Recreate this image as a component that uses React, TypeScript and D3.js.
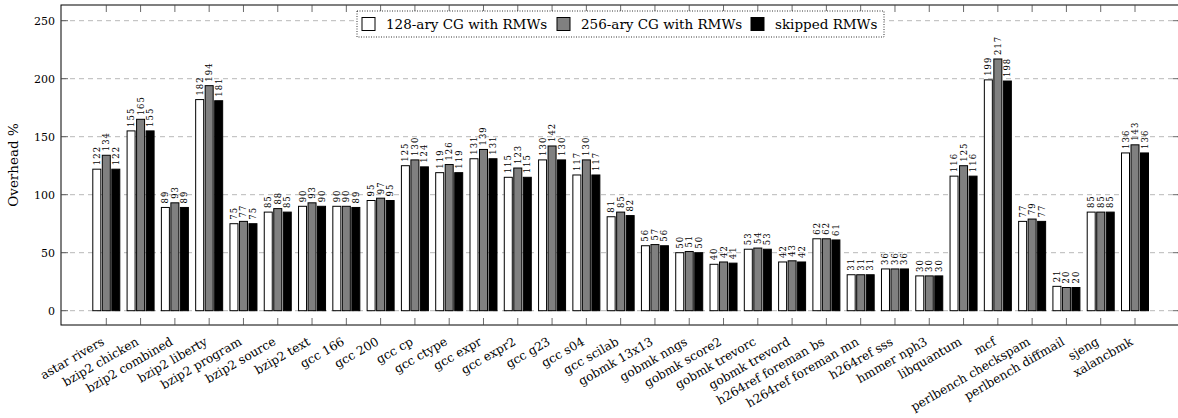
import React from "react";
import * as d3 from "d3";

const categories = [
  "astar rivers", "bzip2 chicken", "bzip2 combined", "bzip2 liberty", "bzip2 program",
  "bzip2 source", "bzip2 text", "gcc 166", "gcc 200", "gcc cp", "gcc ctype", "gcc expr",
  "gcc expr2", "gcc g23", "gcc s04", "gcc scilab", "gobmk 13x13", "gobmk nngs",
  "gobmk score2", "gobmk trevorc", "gobmk trevord", "h264ref foreman bs",
  "h264ref foreman mn", "h264ref sss", "hmmer nph3", "libquantum", "mcf",
  "perlbench checkspam", "perlbench diffmail", "sjeng", "xalancbmk",
];

const cg128 = [122, 155, 89, 182, 75, 85, 90, 90, 95, 125, 119, 131, 115, 130, 117, 81, 56, 50, 40, 53, 42, 62, 31, 36, 30, 116, 199, 77, 21, 85, 136];
const cg256 = [134, 165, 93, 194, 77, 88, 93, 90, 97, 130, 126, 139, 123, 142, 130, 85, 57, 51, 42, 54, 43, 62, 31, 36, 30, 125, 217, 79, 20, 85, 143];
const skipped = [122, 155, 89, 181, 75, 85, 90, 89, 95, 124, 119, 131, 115, 130, 117, 82, 56, 50, 41, 53, 42, 61, 31, 36, 30, 116, 198, 77, 20, 85, 136];

const seriesNames = ["128-ary CG with RMWs", "256-ary CG with RMWs", "skipped RMWs"];
const seriesFills = ["#ffffff", "#808080", "#000000"];
const yTicks = [0, 50, 100, 150, 200, 250];

const W = 1178;
const H = 418;
const frame = { left: 61, right: 1180, top: 5, bottom: 325 };
const FONT = "'DejaVu Serif', serif";

export default function App() {
  const series = [cg128, cg256, skipped];
  const y = d3.scaleLinear().domain([0, 250]).range([310.7, 20.7]);
  const x = d3.scaleLinear().domain([0, categories.length - 1]).range([106.3, 1135]);
  const offsets = d3.scaleLinear().domain([0, 2]).range([-9.5, 9.5]);
  const barW = 8;

  return (
    <svg width={W} height={H} style={{ position: "absolute", left: 0, top: 0, background: "#fff", fontFamily: FONT }}>
      {/* grid */}
      {yTicks.map((t) => (
        <line key={"g" + t} x1={frame.left} x2={frame.right} y1={y(t)} y2={y(t)} stroke="#b8b8b8" strokeWidth={1} strokeDasharray="5,4" />
      ))}
      {/* bars */}
      {categories.map((c, i) => (
        <g key={c}>
          {series.map((s, k) => {
            const cx = x(i) + offsets(k);
            const top = y(s[i]);
            return (
              <g key={k}>
                <rect x={cx - barW / 2} y={top} width={barW} height={y(0) - top} fill={seriesFills[k]} stroke="#000" strokeWidth={1} />
                <text transform={`translate(${cx + 3},${top - 4}) rotate(-90)`} fontSize={8.5} letterSpacing={1} fill="#000" textAnchor="start">{s[i]}</text>
              </g>
            );
          })}
        </g>
      ))}
      {/* frame */}
      <rect x={frame.left} y={frame.top} width={frame.right - frame.left} height={frame.bottom - frame.top} fill="none" stroke="#000" strokeWidth={1} />
      {/* x ticks */}
      {categories.map((c, i) => (
        <g key={"t" + c}>
          <line x1={x(i)} x2={x(i)} y1={frame.bottom} y2={frame.bottom - 7} stroke="#444" strokeWidth={0.8} />
          <line x1={x(i)} x2={x(i)} y1={frame.top} y2={frame.top + 7} stroke="#444" strokeWidth={0.8} />
          <text transform={`translate(${x(i) - 1},${344}) rotate(-30)`} textAnchor="end" fontSize={12.2} fill="#000">{c}</text>
        </g>
      ))}
      {/* y ticks */}
      {yTicks.map((t) => (
        <g key={"y" + t}>
          <line x1={frame.left} x2={frame.left + 7} y1={y(t)} y2={y(t)} stroke="#444" strokeWidth={0.8} />
          <line x1={frame.right - 7} x2={frame.right} y1={y(t)} y2={y(t)} stroke="#444" strokeWidth={0.8} />
          <text x={55} y={y(t)} dy="0.35em" textAnchor="end" fontSize={11} fill="#000">{t}</text>
        </g>
      ))}
      <text transform={`translate(18,165) rotate(-90)`} textAnchor="middle" fontSize={13.5} fill="#000">Overhead %</text>
      {/* legend */}
      <g>
        <rect x={357} y={11} width={527} height={26} fill="#fff" stroke="#000" strokeWidth={0.8} strokeDasharray="1,1.5" />
        {seriesNames.map((n, k) => {
          const lx = [362, 557, 751][k];
          return (
            <g key={n}>
              <rect x={lx} y={17.5} width={13} height={13} fill={seriesFills[k]} stroke="#000" strokeWidth={1} />
              <text x={lx + 24} y={24} dy="0.35em" fontSize={13.5} fill="#000">{n}</text>
            </g>
          );
        })}
      </g>
    </svg>
  );
}
